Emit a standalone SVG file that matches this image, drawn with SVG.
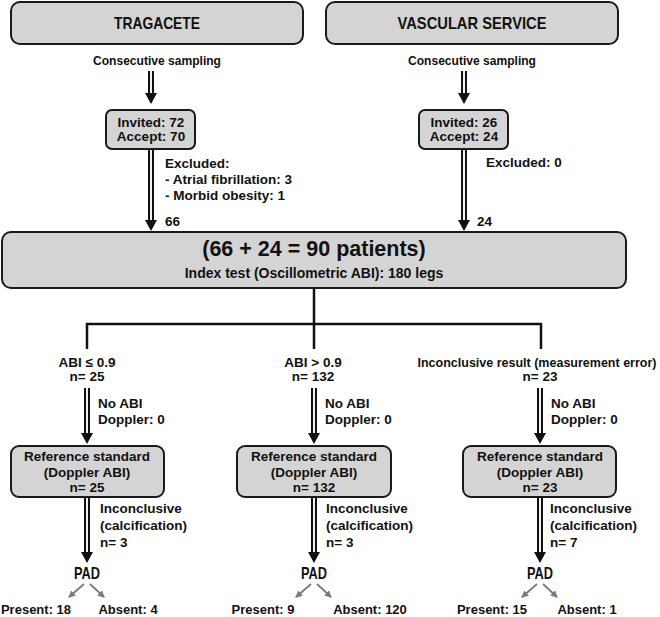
<svg xmlns="http://www.w3.org/2000/svg" width="660" height="617" viewBox="0 0 660 617">
<style>
.box{fill:#d4d4d4;stroke:#1a1a1a;stroke-width:2}
.shaft{stroke:#111;stroke-width:6;fill:none}
.inner{stroke:#f2f2f2;stroke-width:2;fill:none}
.head{fill:#111}
.ln{stroke:#111;stroke-width:2.5;fill:none}
.thin{stroke:#7a7a7a;stroke-width:1.8;fill:none}
text{font-family:"Liberation Sans",Arial,sans-serif;font-weight:bold;fill:#111}
.h{font-size:17px;text-anchor:middle}
.t{font-size:13.5px}
.c{text-anchor:middle}
.big{font-size:21.5px;text-anchor:middle}
.idx{font-size:14px;text-anchor:middle}
.pad{font-size:16.5px;text-anchor:middle}
.res{font-size:13px;text-anchor:middle}
.inc{font-size:12.5px;text-anchor:middle}
</style>
<defs>
<marker id="ga" markerUnits="userSpaceOnUse" markerWidth="8" markerHeight="8" refX="6" refY="4" orient="auto">
<path d="M0,0.5 L7,4 L0,7.5 z" fill="#7a7a7a"/>
</marker>
</defs>

<g id="tragacete"><rect class="box" x="11" y="2" width="292" height="42" rx="9"/><text class="h" x="157" y="28.5" textLength="86" lengthAdjust="spacingAndGlyphs">TRAGACETE</text></g>
<g id="vascular"><rect class="box" x="326" y="2" width="292" height="42" rx="9"/><text class="h" x="472" y="28.5" textLength="149" lengthAdjust="spacingAndGlyphs">VASCULAR SERVICE</text></g>

<g id="invited-left"><rect class="box" x="106" y="110" width="89" height="39" rx="6"/><text class="t c" x="151" y="127">Invited: 72</text><text class="t c" x="151" y="141">Accept: 70</text></g>
<g id="invited-right"><rect class="box" x="419" y="110" width="89" height="39" rx="6"/><text class="t c" x="464" y="127">Invited: 26</text><text class="t c" x="464" y="141">Accept: 24</text></g>

<g id="main"><rect class="box" x="2" y="232" width="624" height="56" rx="9"/><text class="big" x="314" y="256">(66 + 24 = 90 patients)</text><text class="idx" x="314" y="278">Index test (Oscillometric ABI): 180 legs</text></g>

<g id="ref-left"><rect class="box" x="11" y="446" width="153" height="51" rx="8"/><text class="t c" x="87" y="461">Reference standard</text><text class="t c" x="87" y="477">(Doppler ABI)</text><text class="t c" x="87" y="492">n= 25</text></g>
<g id="ref-mid"><rect class="box" x="237" y="446" width="154" height="51" rx="8"/><text class="t c" x="314" y="461">Reference standard</text><text class="t c" x="314" y="477">(Doppler ABI)</text><text class="t c" x="314" y="492">n= 132</text></g>
<g id="ref-right"><rect class="box" x="463" y="446" width="153" height="51" rx="8"/><text class="t c" x="540" y="461">Reference standard</text><text class="t c" x="540" y="477">(Doppler ABI)</text><text class="t c" x="540" y="492">n= 23</text></g>

<g id="pad-left"><text class="pad" x="87" y="579" textLength="26" lengthAdjust="spacingAndGlyphs">PAD</text><text class="res" x="36" y="614">Present: 18</text><text class="res" x="128" y="614">Absent: 4</text></g>
<g id="pad-mid"><text class="pad" x="314" y="579" textLength="26" lengthAdjust="spacingAndGlyphs">PAD</text><text class="res" x="263" y="614">Present: 9</text><text class="res" x="370" y="614">Absent: 120</text></g>
<g id="pad-right"><text class="pad" x="540" y="579" textLength="26" lengthAdjust="spacingAndGlyphs">PAD</text><text class="res" x="492" y="614">Present: 15</text><text class="res" x="587" y="614">Absent: 1</text></g>

<g id="labels">
<text class="t c" x="157" y="65" textLength="128" lengthAdjust="spacingAndGlyphs">Consecutive sampling</text>
<text class="t c" x="472" y="65" textLength="128" lengthAdjust="spacingAndGlyphs">Consecutive sampling</text>
<text class="t" x="165" y="168">Excluded:</text>
<text class="t" x="165" y="184">- Atrial fibrillation: 3</text>
<text class="t" x="165" y="200">- Morbid obesity: 1</text>
<text class="t" x="165" y="226">66</text>
<text class="t" x="486" y="167">Excluded: 0</text>
<text class="t" x="477" y="226">24</text>
<text class="t c" x="87" y="367">ABI ≤ 0.9</text>
<text class="t c" x="87" y="381">n= 25</text>
<text class="t c" x="313" y="367">ABI &gt; 0.9</text>
<text class="t c" x="313" y="381">n= 132</text>
<text class="inc" x="537" y="367">Inconclusive result (measurement error)</text>
<text class="t c" x="540" y="381">n= 23</text>
<text class="t" x="98" y="408">No ABI</text>
<text class="t" x="98" y="424">Doppler: 0</text>
<text class="t" x="325" y="408">No ABI</text>
<text class="t" x="325" y="424">Doppler: 0</text>
<text class="t" x="551" y="408">No ABI</text>
<text class="t" x="551" y="424">Doppler: 0</text>
<text class="t" x="100" y="513">Inconclusive</text>
<text class="t" x="100" y="530">(calcification)</text>
<text class="t" x="100" y="547">n= 3</text>
<text class="t" x="326" y="513">Inconclusive</text>
<text class="t" x="326" y="530">(calcification)</text>
<text class="t" x="326" y="547">n= 3</text>
<text class="t" x="550" y="513">Inconclusive</text>
<text class="t" x="550" y="530">(calcification)</text>
<text class="t" x="550" y="547">n= 7</text>
</g>

<g id="connectors">
<path class="shaft" d="M151,71V94 M464,71V94 M151,149V221 M464,149V221 M87,388V434 M314,388V434 M540,388V434 M87,497V553 M314,497V553 M540,497V553"/>
<path class="inner" d="M151,71V93 M464,71V93 M151,150V220 M464,150V220 M87,388V433 M314,388V433 M540,388V433 M87,498V552 M314,498V552 M540,498V552"/>
<path class="head" d="M145,93H157L151,104z M458,93H470L464,104z M145,220H157L151,231z M458,220H470L464,231z M81,433H93L87,444z M308,433H320L314,444z M534,433H546L540,444z M81,552H93L87,563z M308,552H320L314,563z M534,552H546L540,563z"/>
<path class="ln" d="M314,288V349 M87,349V324H541V349"/>
<path class="thin" marker-end="url(#ga)" d="M84,584L69,597"/>
<path class="thin" marker-end="url(#ga)" d="M90,584L104,597"/>
<path class="thin" marker-end="url(#ga)" d="M311,584L296,597"/>
<path class="thin" marker-end="url(#ga)" d="M317,584L331,597"/>
<path class="thin" marker-end="url(#ga)" d="M537,584L522,597"/>
<path class="thin" marker-end="url(#ga)" d="M543,584L557,597"/>
</g>
</svg>
